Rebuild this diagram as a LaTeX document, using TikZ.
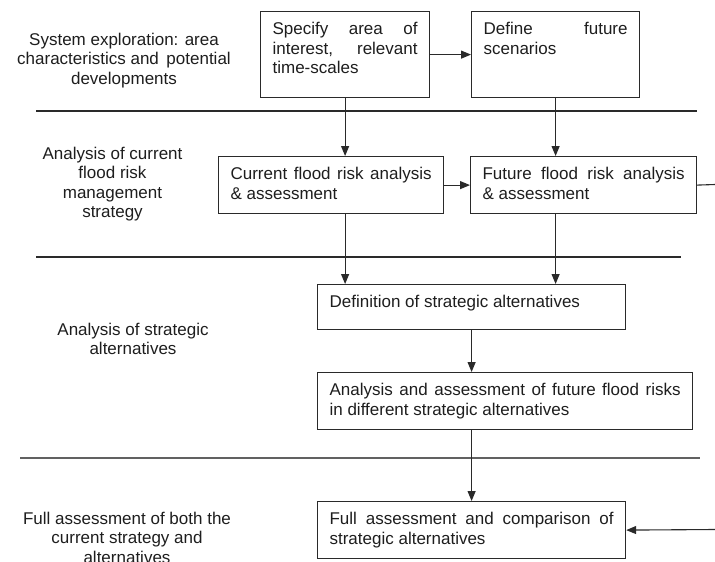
\documentclass[tikz,border=0pt]{standalone}
\usepackage{fontspec}
\setmainfont{Liberation Sans}
\usetikzlibrary{arrows.meta}
\definecolor{ink}{HTML}{1E1E1E}
\definecolor{rulec}{HTML}{2A2A2A}
% top-aligned, justified box text: width, height, text
\newcommand{\bxt}[3]{\parbox[c][#2pt][t]{#1pt}{\hyphenpenalty=10000\vspace*{9.5pt}\strut #3}}
\begin{document}
\begin{tikzpicture}[x=1pt,y=-1pt,
  every node/.style={font=\fontsize{17}{19.5}\selectfont, text=ink},
  stage/.style={draw=rulec, line width=1.2pt, inner xsep=12pt, inner ysep=0pt, anchor=north west},
  phase/.style={align=center, anchor=north, inner sep=0pt},
  sepline/.style={draw=rulec, line width=1.1pt},
  flow/.style={draw=rulec, line width=1.1pt, -{Triangle[length=10pt,width=8pt]}},
  plain/.style={draw=rulec, line width=1.1pt},
]
\useasboundingbox (0,0) rectangle (715,562);
\fill[white] (0,0) rectangle (715,562);

% phase labels on the left
\node[phase] (L1) at (124,32.6) {System exploration: area\\characteristics and\, potential\\developments};
\node[phase] (L2) at (112.5,146.7) {Analysis of current\\flood risk\\management\\strategy};
\node[phase] (L3) at (133,322.7) {Analysis of strategic\\alternatives};
\node[phase] (L4) at (127,511.5) {Full assessment of both the\\current strategy and\\alternatives};

% phase separators
\draw[sepline] (36,111) -- (697,111);
\draw[sepline] (36,257) -- (681,257);
\draw[draw=black!62, line width=1.9pt] (20,458) -- (700,458);

% process steps
\node[stage] (B1) at (260,11) {\bxt{145}{86}{Specify area of\linebreak interest, relevant\linebreak time-scales}};
\node[stage] (B2) at (471,11) {\bxt{144}{86}{Define future\linebreak scenarios}};
\node[stage] (B3) at (218,156) {\bxt{201}{57}{Current flood risk analysis\linebreak \& assessment}};
\node[stage] (B4) at (470,156) {\bxt{202}{57}{Future flood risk analysis\linebreak \& assessment}};
\node[stage] (B5) at (317,284) {\bxt{284}{45}{Definition of strategic alternatives}};
\node[stage] (B6) at (317,372) {\bxt{351}{57}{Analysis and assessment of future flood risks\linebreak in different strategic alternatives}};
\node[stage] (B7) at (317,501) {\bxt{284}{57}{Full assessment and comparison of\linebreak strategic alternatives}};

% loose ends at the right border
\coordinate (outR) at (715,184.5);
\coordinate (inR) at (715,529.5);

% connectors
\draw[flow] (B1.east) -- (B1 -| B2.west);
\draw[flow] (B1.south) -- (B1 |- B3.north);
\draw[flow] (B2.south) -- (B2 |- B4.north);
\draw[flow] (B3.east) -- (B4.west);
\draw[plain] (B4.east) -- (outR);
\draw[flow] (B3.south -| B1) -- (B5.north -| B1);
\draw[flow] (B4.south -| B2) -- (B5.north -| B2);
\draw[flow] (B5.south) -- (B5 |- B6.north);
\draw[flow] (B6.south -| B5) -- (B7.north -| B5);
\draw[flow] (inR) -- (B7.east);
\end{tikzpicture}
\end{document}
